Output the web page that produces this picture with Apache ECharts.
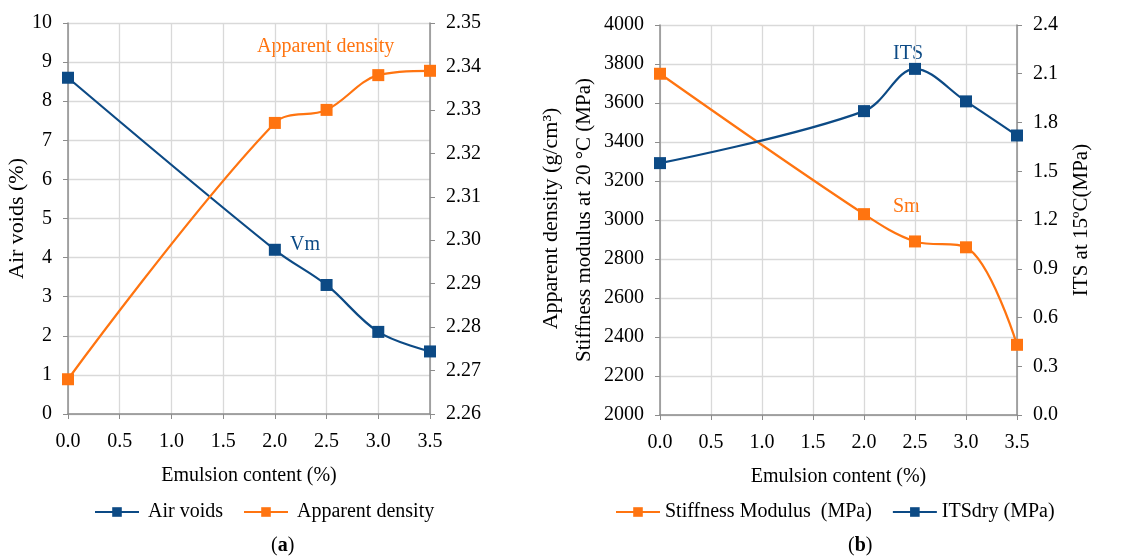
<!DOCTYPE html>
<html>
<head>
<meta charset="utf-8">
<script src="https://cdn.jsdelivr.net/npm/echarts@6/dist/echarts.min.js"></script>
<style>
  html, body { margin: 0; padding: 0; background: #fff; }
  #chart { width: 1141px; height: 559px; }
</style>
</head>
<body>
<div id="chart"></div>
<script>
// 数据
const emulsion = [0, 2, 2.5, 3, 3.5];
const airVoids = [8.6, 4.2, 3.3, 2.1, 1.6];
const apparentDensity = [2.268, 2.327, 2.330, 2.338, 2.339];
const stiffness = [3750, 3030, 2890, 2860, 2360];
const itsDry = [1.55, 1.87, 2.13, 1.93, 1.72];

const BLUE = '#0C4A85';
const ORANGE = '#FF7410';
const AXIS = '#8C8C8C';
const GRID = '#D9D9D9';
const FONT = '"Liberation Serif", "DejaVu Serif", serif';

const pairs = (xs, ys) => xs.map((x, i) => [x, ys[i]]);

function xAxisOf(idx) {
  return {
    type: 'value', gridIndex: idx, min: 0, max: 3.5, interval: 0.5,
    name: 'Emulsion content (%)', nameLocation: 'middle', nameGap: 52,
    nameTextStyle: { color: '#000', fontSize: 20, fontFamily: FONT },
    axisLine: { lineStyle: { color: AXIS, width: 1.5 } },
    axisTick: { show: true, length: 5, lineStyle: { color: AXIS } },
    axisLabel: { color: '#000', fontSize: 20, fontFamily: FONT, margin: 18, formatter: v => v.toFixed(1) },
    splitLine: { show: true, lineStyle: { color: GRID, width: 1.3 } }
  };
}

function yAxisOf(idx, pos, min, max, interval, name, gap, nameSize, fmt) {
  return {
    type: 'value', gridIndex: idx, position: pos, min, max, interval,
    name, nameLocation: 'middle', nameGap: gap, nameRotate: 90,
    nameTextStyle: { color: '#000', fontSize: nameSize, fontFamily: FONT },
    axisLine: { show: true, lineStyle: { color: AXIS, width: 1.5 } },
    axisTick: { show: true, inside: false, length: 5, lineStyle: { color: AXIS } },
    axisLabel: { color: '#000', fontSize: 20, fontFamily: FONT, margin: 16, formatter: fmt },
    splitLine: { show: pos === 'left', lineStyle: { color: GRID, width: 1.3 } }
  };
}

function lineSeries(name, x, y, yIdx, color, data) {
  return {
    name, type: 'line', xAxisIndex: x, yAxisIndex: yIdx,
    data, smooth: 0.35, symbol: 'rect', symbolSize: 12,
    lineStyle: { color, width: 2.2 },
    itemStyle: { color }
  };
}

const chart = echarts.init(document.getElementById('chart'));
chart.setOption({
  animation: false,
  textStyle: { fontFamily: FONT },
  grid: [
    { left: 68, right: 711, top: 23, bottom: 145 },
    { left: 660, right: 124, top: 25, bottom: 144 }
  ],
  xAxis: [xAxisOf(0), xAxisOf(1)],
  yAxis: [
    yAxisOf(0, 'left', 0, 10, 1, 'Air voids (%)', 29, 22, v => v),
    yAxisOf(0, 'right', 2.26, 2.35, 0.01, 'Apparent density (g/cm³)', 110, 22, v => v.toFixed(2)),
    yAxisOf(1, 'left', 2000, 4000, 200, 'Stiffness modulus at 20 °C (MPa)', 65, 21, v => v),
    yAxisOf(1, 'right', 0, 2.4, 0.3, 'ITS at 15ºC(MPa)', 54, 21, v => v.toFixed(1))
  ],
  legend: [
    {
      data: ['Air voids', 'Apparent density'], left: 89, top: 497,
      itemWidth: 44, itemHeight: 12, itemGap: 20,
      textStyle: { color: '#000', fontSize: 20, fontFamily: FONT, padding: [0, 0, 0, 4] }
    },
    {
      data: ['Stiffness Modulus  (MPa)', 'ITSdry (MPa)'], left: 610, top: 497,
      itemWidth: 44, itemHeight: 12, itemGap: 20,
      textStyle: { color: '#000', fontSize: 20, fontFamily: FONT }
    }
  ],
  series: [
    lineSeries('Air voids', 0, 0, 0, BLUE, pairs(emulsion, airVoids)),
    lineSeries('Apparent density', 0, 0, 1, ORANGE, pairs(emulsion, apparentDensity)),
    lineSeries('Stiffness Modulus  (MPa)', 1, 1, 2, ORANGE, pairs(emulsion, stiffness)),
    lineSeries('ITSdry (MPa)', 1, 1, 3, BLUE, pairs(emulsion, itsDry))
  ],
  graphic: [
    { type: 'text', left: 257, top: 37, style: { text: 'Apparent density', fill: ORANGE, font: '20px ' + FONT } },
    { type: 'text', left: 290, top: 235, style: { text: 'Vm', fill: BLUE, font: '20px ' + FONT } },
    { type: 'text', left: 893, top: 44, style: { text: 'ITS', fill: BLUE, font: '20px ' + FONT } },
    { type: 'text', left: 893, top: 197, style: { text: 'Sm', fill: ORANGE, font: '20px ' + FONT } },
    { type: 'text', left: 271, top: 536, style: { text: '({a|a})', fill: '#000', font: '20px ' + FONT,
      rich: { a: { fontWeight: 'bold', fontSize: 20, fontFamily: FONT } } } },
    { type: 'text', left: 848, top: 536, style: { text: '({a|b})', fill: '#000', font: '20px ' + FONT,
      rich: { a: { fontWeight: 'bold', fontSize: 20, fontFamily: FONT } } } }
  ]
});
</script>
</body>
</html>
